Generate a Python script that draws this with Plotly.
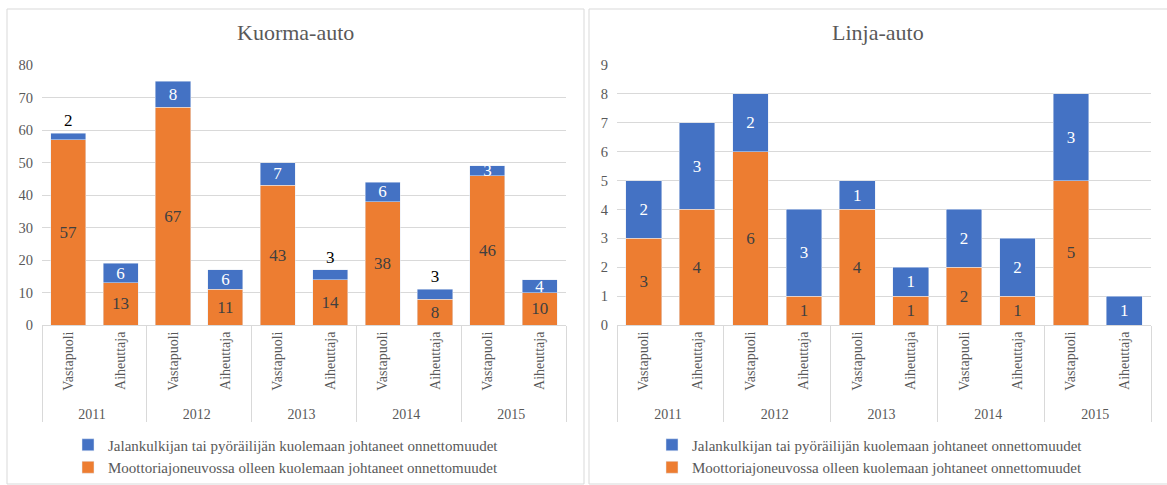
import plotly.graph_objects as go

# Categories: year groups and party role
years = ["2011", "2012", "2013", "2014", "2015"]
roles = ["Vastapuoli", "Aiheuttaja"]

series_names = [
    "Moottoriajoneuvossa olleen kuolemaan johtaneet onnettomuudet",
    "Jalankulkijan tai pyöräilijän kuolemaan johtaneet onnettomuudet",
]

# Kuorma-auto (trucks)
truck_motor = [57, 13, 67, 11, 43, 14, 38, 8, 46, 10]
truck_ped = [2, 6, 8, 6, 7, 3, 6, 3, 3, 4]
truck_ped_labelpos = ["outside", "inside", "inside", "inside", "inside",
                      "outside", "inside", "outside", "inside", "inside"]

# Linja-auto (buses)
bus_motor = [3, 4, 6, 1, 4, 1, 2, 1, 5, 0]
bus_ped = [2, 3, 2, 3, 1, 1, 2, 2, 3, 1]

ORANGE = "#ED7D31"
BLUE = "#4472C4"
GRID = "#d9d9d9"
TXT = "#595959"
FONT = "Liberation Serif, Times New Roman, serif"

W, H = 1167, 485


def fx(px):
    return px / W


def fy(py):
    return 1 - py / H


x_years = [y for y in years for _ in roles]
x_roles = [r for _ in years for r in roles]
xcat = [x_years, x_roles]


def labels(vals):
    return [str(v) if v else "" for v in vals]


fig = go.Figure()

panels = [
    ("x", "y", "legend", truck_motor, truck_ped, truck_ped_labelpos),
    ("x2", "y2", "legend2", bus_motor, bus_ped, ["inside"] * len(bus_ped)),
]

for xa, ya, lg, motor, ped, ped_pos in panels:
    fig.add_trace(go.Bar(
        x=xcat, y=motor, name=series_names[0], marker_color=ORANGE,
        xaxis=xa, yaxis=ya, legend=lg, legendgroup="m",
        text=labels(motor), textposition="inside", insidetextanchor="middle",
        textangle=0, constraintext="none", cliponaxis=False,
        insidetextfont=dict(family=FONT, size=17, color="#404040"),
        hoverinfo="skip",
    ))
    fig.add_trace(go.Bar(
        x=xcat, y=ped, name=series_names[1], marker_color=BLUE,
        xaxis=xa, yaxis=ya, legend=lg, legendgroup="p",
        text=labels(ped), textposition=ped_pos, insidetextanchor="middle",
        textangle=0, constraintext="none", cliponaxis=False,
        insidetextfont=dict(family=FONT, size=17, color="white"),
        outsidetextfont=dict(family=FONT, size=17, color="black"),
        hoverinfo="skip",
    ))

xaxis_style = dict(
    type="multicategory", tickangle=-90, showline=True, linecolor=GRID,
    showdividers=True, dividercolor=GRID, dividerwidth=1,
    tickfont=dict(family=FONT, size=14, color=TXT), showgrid=False,
    ticks="", automargin=False,
)
yaxis_style = dict(
    showgrid=True, gridcolor=GRID, gridwidth=1, zeroline=False,
    tickfont=dict(family=FONT, size=14.5, color=TXT), ticks="",
    ticklabelstandoff=8, automargin=False,
)

legend_style = dict(
    orientation="v", font=dict(family=FONT, size=15, color=TXT),
    bgcolor="rgba(0,0,0,0)", tracegroupgap=11, itemwidth=30,
    yanchor="middle", xanchor="left", traceorder="reversed",
)

fig.update_layout(
    width=W, height=H,
    margin=dict(l=0, r=0, t=0, b=0, pad=0, autoexpand=False),
    font=dict(family=FONT, color=TXT),
    paper_bgcolor="white", plot_bgcolor="white",
    barmode="stack", bargap=0.33,
    xaxis=dict(domain=[fx(42), fx(566)], anchor="y", **xaxis_style),
    yaxis=dict(domain=[fy(325), fy(65)], range=[0, 80], dtick=10, anchor="x", **yaxis_style),
    xaxis2=dict(domain=[fx(617), fx(1151)], anchor="y2", **xaxis_style),
    yaxis2=dict(domain=[fy(325), fy(65)], range=[0, 9], dtick=1, anchor="x2", **yaxis_style),
    legend=dict(x=fx(68), y=fy(456), **legend_style),
    legend2=dict(x=fx(652), y=fy(456), **legend_style),
    showlegend=True,
    shapes=[
        dict(type="rect", xref="paper", yref="paper", x0=fx(7), x1=fx(584),
             y0=fy(484), y1=fy(9), line=dict(color=GRID, width=1), layer="below"),
        dict(type="rect", xref="paper", yref="paper", x0=fx(589), x1=fx(1180),
             y0=fy(484), y1=fy(9), line=dict(color=GRID, width=1), layer="below"),
    ],
    annotations=[
        dict(text="Kuorma-auto", x=fx(295), y=fy(33), xref="paper", yref="paper",
             xanchor="center", yanchor="middle", showarrow=False,
             font=dict(family=FONT, size=22, color=TXT)),
        dict(text="Linja-auto", x=fx(878), y=fy(33), xref="paper", yref="paper",
             xanchor="center", yanchor="middle", showarrow=False,
             font=dict(family=FONT, size=22, color=TXT)),
    ],
)

fig.write_html("out.html")
